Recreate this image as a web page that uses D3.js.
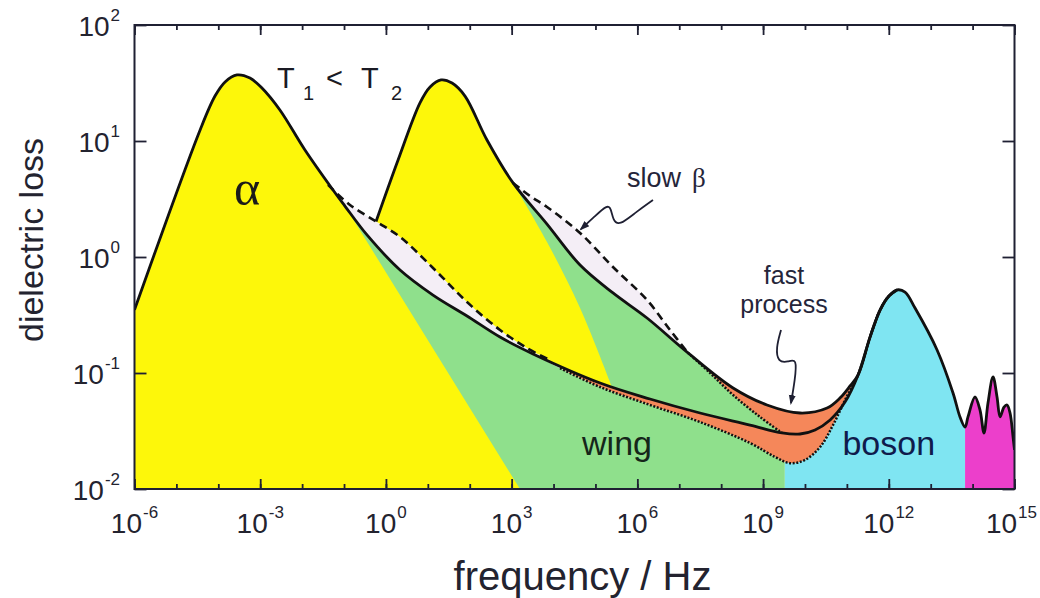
<!DOCTYPE html>
<html>
<head>
<meta charset="utf-8">
<script src="https://cdn.jsdelivr.net/npm/d3@7"></script>
<style>
  body { margin: 0; background: #fff; }
  svg { display: block; font-family: "Liberation Sans", Arial, sans-serif; }
</style>
</head>
<body>
<div id="chart"></div>
<script>
// ---------- values: [frequency / Hz, dielectric loss] ----------
// T1 total spectrum: alpha peak, wing, fast-process minimum, up to where it joins the boson peak
const t1Loss = [
  [1e-6, 0.35], [3.66e-5, 12.4], [8.34e-5, 24.4], [1.45e-4, 32.3], [2.79e-4, 37.1],
  [5.70e-4, 34.9], [1.10e-3, 28.6], [2.95e-3, 18.5], [1.17e-2, 8.36], [5.46e-2, 3.78],
  [0.105, 2.75], [0.353, 1.55], [2.17, 0.773], [13.3, 0.47], [86.1, 0.31], [528, 0.204],
  [3.24e3, 0.146], [1.29e5, 0.082], [2.0e6, 0.0597], [3.13e7, 0.0452], [4.88e8, 0.0356],
  [2.83e9, 0.0304], [7.62e9, 0.0298], [1.74e10, 0.0323], [3.98e10, 0.0394],
  [9.02e10, 0.0562], [1.85e11, 0.0962]
];
// T2 total spectrum
const t2Loss = [
  [0.581, 2.02], [1.95, 6.85], [6.5, 21.3], [11.3, 29.2], [20.7, 33.6], [37.8, 31.6],
  [77.1, 24.4], [258, 10.2], [1.08e3, 4.35], [6.98e3, 1.92], [4.29e4, 0.853],
  [2.62e5, 0.49], [1.7e6, 0.298], [1.62e7, 0.149], [1.92e8, 0.0743], [1.24e9, 0.053],
  [7.62e9, 0.0452], [3.37e10, 0.0499], [6.84e10, 0.0608], [1.19e11, 0.0773], [1.85e11, 0.0962]
];
// boson peak (shared by both temperatures) and the high-frequency modes
const bosonFlank = [[3.57e11, 0.204], [6.19e11, 0.349], [1.01e12, 0.461], [1.57e12, 0.52]];
const bosonRight = [
  [2.44e12, 0.499], [4.23e12, 0.363], [1.42e13, 0.158], [3.41e13, 0.0673],
  [5.01e13, 0.0418], [6.61e13, 0.0342]
];
const highModes = [
  [7.76e13, 0.0418], [1.14e14, 0.0621], [1.50e14, 0.048], [1.87e14, 0.0304],
  [2.33e14, 0.0551], [3.07e14, 0.0925], [3.83e14, 0.0621], [4.52e14, 0.0418],
  [5.62e14, 0.0509], [6.64e14, 0.053], [7.83e14, 0.0452], [9.23e14, 0.0281], [1e15, 0.0217]
];
// slow beta (dashed) for T1 and T2
const slowBeta1 = [
  [4.16e-2, 4.18], [0.139, 2.81], [0.612, 2.0], [2.17, 1.49], [13.3, 0.804],
  [86.1, 0.409], [528, 0.235], [2.33e3, 0.164], [8.24e3, 0.129]
];
const slowBeta2 = [
  [1.08e3, 4.35], [2.74e3, 3.36], [6.98e3, 2.7], [4.29e4, 1.61], [2.62e5, 0.82],
  [1.7e6, 0.426], [6.01e6, 0.235], [1.62e7, 0.149]
];
// wing without fast process (dotted)
const wingNoFast1 = [
  [1.43e4, 0.11], [1.29e5, 0.0757], [2.0e6, 0.053], [3.13e7, 0.0378], [4.88e8, 0.0249],
  [1.93e9, 0.0189], [4.4e9, 0.0167], [1e10, 0.0178], [2.29e10, 0.023], [4.68e10, 0.0356],
  [9.55e10, 0.0608], [1.85e11, 0.0962]
];
const wingNoFast2 = [[1.62e7, 0.149], [5.45e7, 0.1], [1.92e8, 0.0646], [8.45e8, 0.0418], [2.83e9, 0.0304]];
// high-frequency flank of each alpha peak (edge of the yellow areas)
const alphaTail1 = [[0.105, 2.75], [1.58e3, 0.01]];
const alphaTail2 = [[1.08e3, 4.35], [6.98e3, 1.35], [4.29e4, 0.363], [2.48e5, 0.0757]];
// frequencies where the wing / boson / mode colours change
const regionEdges = [3.31e9, 6.61e13];

// axes
const xMajorTicks = [1e-6, 1e-3, 1e0, 1e3, 1e6, 1e9, 1e12, 1e15];
const xMajorExponents = ["-6", "-3", "0", "3", "6", "9", "12", "15"];
const xMinorTicks = [1e-6, 1e-5, 1e-4, 1e-3, 1e-2, 1e-1, 1e0, 1e1, 1e2, 1e3, 1e4, 1e5, 1e6,
  1e7, 1e8, 1e9, 1e10, 1e11, 1e12, 1e13, 1e14, 1e15];
const yTicks = [1e-2, 1e-1, 1e0, 1e1, 1e2];
const yExponents = ["-2", "-1", "0", "1", "2"];

// annotations, in data coordinates
const tempLabelAt = [2.5e-3, 28.6];
const alphaLabelAt = [2.37e-4, 2.8];
const slowBetaLabelAt = [5.66e5, 4.0];
const fastLabelAt = [3.16e9, 0.58];
const processLabelAt = [3.16e9, 0.33];
const wingLabelAt = [3.27e5, 0.0196];
const bosonLabelAt = [1e12, 0.0196];
const slowBetaArrow = [
  [2.36e6, 3.1], [9.29e5, 2.44], [3.65e5, 1.85], [2.62e5, 2.08], [2.35e5, 2.64],
  [1.89e5, 2.81], [9.75e4, 2.25], [4.52e4, 1.74]
];
const fastArrow = [
  [2.68e9, 0.235], [2.03e9, 0.164], [2.27e9, 0.124], [3.93e9, 0.124], [6.44e9, 0.135],
  [5.77e9, 0.0871], [4.63e9, 0.0551]
];

// ---------- layout ----------
const width = 1040, height = 598;
const margin = {top: 25, right: 25.5, bottom: 109, left: 134.5};
const innerWidth = width - margin.left - margin.right;
const innerHeight = height - margin.top - margin.bottom;
const ink = "#1f2033";
const textColor = "#23232f";

const colors = {
  yellow: "#fdf70a", green: "#8fe08c", orange: "#f5875a",
  cyan: "#7fe5f2", pink: "#ec3fcb", lavender: "#f4eef6"
};

const xScale = d3.scaleLog().domain([1e-6, 1e15]).range([0, innerWidth]);
const yScale = d3.scaleLog().domain([1e-2, 1e2]).range([innerHeight, 0]);
// absolute page positions, used for the texts
const px = f => margin.left + xScale(f);
const py = v => margin.top + yScale(v);

const svg = d3.select("#chart").append("svg")
  .attr("width", width).attr("height", height);
const defs = svg.append("defs");
const inner = svg.append("g").attr("transform", `translate(${margin.left},${margin.top})`);

// clip rectangles: whole plot, and the three colour bands at the right
const addClip = (id, x0, x1) => defs.append("clipPath").attr("id", id)
  .append("rect").attr("x", x0).attr("y", 0).attr("width", x1 - x0).attr("height", innerHeight);
addClip("plotClip", 0, innerWidth);
addClip("greenClip", 0, xScale(regionEdges[0]));
addClip("cyanClip", xScale(regionEdges[0]), xScale(regionEdges[1]));
addClip("pinkClip", xScale(regionEdges[1]), innerWidth);

defs.append("marker").attr("id", "arrowHead")
  .attr("viewBox", "0 0 10 10").attr("refX", 8).attr("refY", 5)
  .attr("markerUnits", "userSpaceOnUse").attr("markerWidth", 10).attr("markerHeight", 10)
  .attr("orient", "auto")
  .append("path").attr("d", "M0,1.5L10,5L0,8.5Z").attr("fill", ink);

// ---------- path helpers ----------
const smooth = d3.line()
  .x(d => xScale(d[0])).y(d => yScale(d[1]))
  .curve(d3.curveCatmullRom.alpha(0.5));
const lineTo = pts => pts.map(d => `L${xScale(d[0])},${yScale(d[1])}`).join("");
const joinPaths = (...parts) => parts.map((p, i) => i ? p.replace(/^M/, "L") : p).join("") + "Z";
const between = (pts, lo, hi) => pts.filter(d => d[0] > lo && d[0] < hi);
const rev = pts => pts.slice().reverse();

const plot = inner.append("g").attr("clip-path", "url(#plotClip)");

/***************/
/* Fill areas  */
/***************/
// fast process: between the T2 total and the T1 wing without fast process
plot.append("path")
  .attr("d", joinPaths(
    smooth(wingNoFast1),
    smooth(rev(t2Loss.filter(d => d[0] >= 2.62e5 && d[0] < 1.85e11))),
    lineTo([t1Loss[17]])))
  .attr("fill", colors.orange);

// everything under the lower envelope, coloured by band
const lowerEnvelope = joinPaths(
  smooth([...t1Loss.filter(d => d[0] < 1.43e4), ...wingNoFast1, ...bosonFlank, ...bosonRight, ...highModes]),
  lineTo([[1e15, 1e-2], [1e-6, 1e-2]]));
[["greenClip", colors.green], ["cyanClip", colors.cyan], ["pinkClip", colors.pink]].forEach(([clip, fill]) => {
  plot.append("path").attr("d", lowerEnvelope).attr("fill", fill).attr("clip-path", `url(#${clip})`);
});

// wing of T2 above the T1 curve
plot.append("path")
  .attr("d", joinPaths(
    smooth(t2Loss.filter(d => d[0] >= 20.7 && d[0] <= 1.62e7)),
    smooth(wingNoFast2),
    smooth(rev(between(t1Loss, 20.7, 2.83e9)))))
  .attr("fill", colors.green);

// alpha peaks
plot.append("path")
  .attr("d", joinPaths(smooth(t1Loss.filter(d => d[0] <= 0.105)), lineTo([...alphaTail1, [1e-6, 1e-2]])))
  .attr("fill", colors.yellow);
plot.append("path")
  .attr("d", joinPaths(
    smooth(t2Loss.filter(d => d[0] <= 1.08e3)),
    smooth(alphaTail2),
    smooth(rev(between(t1Loss, 0.581, 2.48e5)))))
  .attr("fill", colors.yellow);

// slow beta excess
plot.append("path")
  .attr("d", joinPaths(smooth(slowBeta1), smooth(rev(between(t1Loss, 4.16e-2, 8.24e3)))))
  .attr("fill", colors.lavender);
plot.append("path")
  .attr("d", joinPaths(smooth(slowBeta2), smooth(rev(between(t2Loss, 1.08e3, 1.62e7)))))
  .attr("fill", colors.lavender);

/************/
/* Curves   */
/************/
const drawCurve = (pts, dash, w) => plot.append("path")
  .attr("d", smooth(pts))
  .attr("fill", "none")
  .attr("stroke", "#111")
  .attr("stroke-width", w)
  .attr("stroke-linejoin", "round")
  .attr("stroke-dasharray", dash);

drawCurve(slowBeta1, "8,5", 2.6);
drawCurve(slowBeta2, "8,5", 2.6);
drawCurve(wingNoFast2, "2,1.6", 2.5);
drawCurve([...wingNoFast1, ...bosonFlank], "2,1.6", 2.5);
drawCurve([...t2Loss, ...bosonFlank], null, 2.8);
drawCurve([...t1Loss, ...bosonFlank, ...bosonRight, ...highModes], null, 2.8);

/************/
/* Axes     */
/************/
const styleAxis = g => {
  g.select(".domain").remove();
  g.selectAll(".tick text").remove();
  g.selectAll(".tick line").attr("stroke", ink).attr("stroke-width", 1.8);
};

inner.append("g").attr("transform", `translate(0,${innerHeight})`)
  .call(d3.axisBottom(xScale).tickValues(xMinorTicks).tickSize(-5))
  .call(styleAxis);
inner.append("g").attr("transform", `translate(0,${innerHeight})`)
  .call(d3.axisBottom(xScale).tickValues(xMajorTicks).tickSize(-10))
  .call(styleAxis);
inner.append("g")
  .call(d3.axisTop(xScale).tickValues(xMinorTicks).tickSize(-5))
  .call(styleAxis);
inner.append("g")
  .call(d3.axisTop(xScale).tickValues(xMajorTicks).tickSize(-10))
  .call(styleAxis);
inner.append("g")
  .call(d3.axisLeft(yScale).tickValues(yTicks).tickSize(-12))
  .call(styleAxis);
inner.append("g").attr("transform", `translate(${innerWidth},0)`)
  .call(d3.axisRight(yScale).tickValues(yTicks).tickSize(-12))
  .call(styleAxis);

inner.append("rect")
  .attr("width", innerWidth).attr("height", innerHeight)
  .attr("fill", "none").attr("stroke", ink).attr("stroke-width", 2);

// tick labels: "10" and a raised exponent as two texts, placed after measuring them
const labels = svg.append("g").attr("fill", textColor);
const powerLabel = (x, y, exp, align) => {
  const base = labels.append("text").attr("y", y).attr("font-size", 28).text("10");
  const sup = labels.append("text").attr("y", y - 15).attr("font-size", 17).text(exp);
  const w1 = base.node().getComputedTextLength();
  const w2 = sup.node().getComputedTextLength();
  let x0 = align === "middle" ? x - (w1 + w2 + 1) / 2 : x - (w1 + w2 + 1);
  x0 = Math.min(x0, width - 3 - (w1 + w2 + 1));
  base.attr("x", x0);
  sup.attr("x", x0 + w1 + 1);
};
xMajorTicks.forEach((v, i) => powerLabel(px(v), margin.top + innerHeight + 44, xMajorExponents[i], "middle"));
yTicks.forEach((v, i) => powerLabel(margin.left - 14.5, py(v) + 11, yExponents[i], "end"));

// axis titles
svg.append("text")
  .text("frequency / Hz")
  .attr("x", margin.left + innerWidth / 2 + 8)
  .attr("y", height - 8)
  .attr("text-anchor", "middle")
  .attr("font-size", 40)
  .attr("fill", textColor);
const yTitleX = 43, yTitleY = margin.top + innerHeight / 2 - 17;
svg.append("text")
  .text("dielectric loss")
  .attr("x", yTitleX).attr("y", yTitleY)
  .attr("transform", `rotate(-90 ${yTitleX} ${yTitleY})`)
  .attr("text-anchor", "middle")
  .attr("font-size", 34)
  .attr("fill", textColor);

/*****************/
/* Annotations   */
/*****************/
// "T1 < T2", each piece its own text
const tx = px(tempLabelAt[0]), ty = py(tempLabelAt[1]);
[["T", 0, 0, 29], ["1", 26, 12, 20], ["<", 49, 0, 29], ["T", 84, 0, 29], ["2", 114, 12, 20]]
  .forEach(([s, dx, dy, size]) => {
    svg.append("text").attr("x", tx + dx).attr("y", ty + dy)
      .attr("font-size", size).attr("fill", "#1a1a24").text(s);
  });

svg.append("text")
  .attr("x", px(alphaLabelAt[0])).attr("y", py(alphaLabelAt[1]))
  .attr("font-family", "Liberation Serif, serif").attr("font-size", 50).attr("fill", "#1a1a1a")
  .text("α");

svg.append("text")
  .attr("x", px(slowBetaLabelAt[0])).attr("y", py(slowBetaLabelAt[1]))
  .attr("font-size", 27).attr("fill", "#25253a")
  .text("slow");
svg.append("text")
  .attr("x", px(slowBetaLabelAt[0]) + 65).attr("y", py(slowBetaLabelAt[1]))
  .attr("font-family", "Liberation Serif, serif").attr("font-size", 27).attr("fill", "#25253a")
  .text("β");

[[fastLabelAt, "fast"], [processLabelAt, "process"]].forEach(([p, s]) => {
  svg.append("text")
    .attr("x", px(p[0])).attr("y", py(p[1]))
    .attr("text-anchor", "middle").attr("font-size", 25).attr("fill", "#25253a")
    .text(s);
});

svg.append("text")
  .attr("x", px(wingLabelAt[0])).attr("y", py(wingLabelAt[1]))
  .attr("text-anchor", "middle").attr("font-size", 34).attr("fill", "#15261a").text("wing");
svg.append("text")
  .attr("x", px(bosonLabelAt[0])).attr("y", py(bosonLabelAt[1]))
  .attr("text-anchor", "middle").attr("font-size", 34).attr("fill", "#0f1b4c").text("boson");

const arrowLine = d3.line().x(d => xScale(d[0])).y(d => yScale(d[1])).curve(d3.curveBasis);
[slowBetaArrow, fastArrow].forEach(pts => {
  inner.append("path")
    .attr("d", arrowLine(pts))
    .attr("fill", "none").attr("stroke", ink).attr("stroke-width", 1.8)
    .attr("marker-end", "url(#arrowHead)");
});
</script>
</body>
</html>
